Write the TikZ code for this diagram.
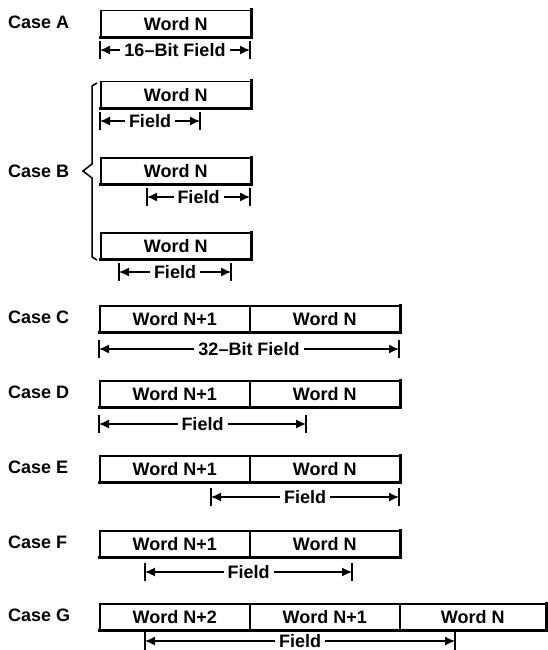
\documentclass[tikz,border=0pt]{standalone}
\usepackage{fontspec}
\setmainfont{Liberation Sans}
\usetikzlibrary{arrows.meta,calc}
\tikzset{
  cell/.style={draw, line width=1.5pt, minimum height=26pt, inner sep=0pt, anchor=north west,
    font=\fontsize{18}{20}\selectfont\bfseries},
  heavy/.style={line width=3pt, line cap=rect},
  caselabel/.style={anchor=west, inner sep=0pt, font=\fontsize{18}{20}\selectfont\bfseries},
  flabel/.style={fill=white, inner xsep=4pt, inner ysep=1pt, font=\fontsize{18}{20}\selectfont\bfseries},
  farrow/.style={line width=1.3pt, {Latex[length=10pt,width=9pt]}-{Latex[length=10pt,width=9pt]}},
  tickline/.style={line width=2pt},
  bracel/.style={line width=1.5pt, line join=miter}
}
\newcommand\fieldarr[5]{%
  \coordinate (#1l) at (#2,#4);
  \coordinate (#1r) at (#3,#4);
  \draw[tickline] ([yshift=9pt]#1l) -- ([yshift=-9pt]#1l);
  \draw[tickline] ([yshift=9pt]#1r) -- ([yshift=-9pt]#1r);
  \draw[farrow] (#1l) -- (#1r);
  \node[flabel] (#1t) at ($(#1l)!0.5!(#1r)$) {#5};
}
\begin{document}
\begin{tikzpicture}[x=1pt,y=-1pt]
\useasboundingbox (0,0) rectangle (547,650);
% Case A
\node[caselabel] (la) at (8,22) {Case A};
\node[cell, minimum width=150pt] (a1) at (100,10) {Word N};
\draw[heavy] (a1.south west) -- (a1.south east) -- (a1.north east);
\fieldarr{fa}{100}{250}{50}{16--Bit Field}
% Case B
\node[caselabel] (lb) at (8,171) {Case B};
\node[cell, minimum width=150pt] (b1) at (100,81) {Word N};
\draw[heavy] (b1.south west) -- (b1.south east) -- (b1.north east);
\fieldarr{fb1}{100}{200}{121}{Field}
\node[cell, minimum width=150pt] (b2) at (100,157) {Word N};
\draw[heavy] (b2.south west) -- (b2.south east) -- (b2.north east);
\fieldarr{fb2}{147}{250}{197}{Field}
\node[cell, minimum width=150pt] (b3) at (100,232) {Word N};
\draw[heavy] (b3.south west) -- (b3.south east) -- (b3.north east);
\fieldarr{fb3}{119}{231}{272}{Field}
\draw[bracel] (97,83) -- (92,86) -- (92,164) -- (83,171) -- (92,178) -- (92,257) -- (97,260);
% Case C
\node[caselabel] (lc) at (8,317) {Case C};
\node[cell, minimum width=150pt] (c1) at (99,305) {Word N+1};
\node[cell, minimum width=150pt] (c2) at (249,305) {Word N};
\draw[heavy] (c1.south west) -- (c2.south east) -- (c2.north east);
\fieldarr{fc}{99}{399}{349}{32--Bit Field}
% Case D
\node[caselabel] (ld) at (8,392) {Case D};
\node[cell, minimum width=150pt] (d1) at (99,380) {Word N+1};
\node[cell, minimum width=150pt] (d2) at (249,380) {Word N};
\draw[heavy] (d1.south west) -- (d2.south east) -- (d2.north east);
\fieldarr{fd}{99}{306}{424}{Field}
% Case E
\node[caselabel] (le) at (8,467) {Case E};
\node[cell, minimum width=150pt] (e1) at (99,455) {Word N+1};
\node[cell, minimum width=150pt] (e2) at (249,455) {Word N};
\draw[heavy] (e1.south west) -- (e2.south east) -- (e2.north east);
\fieldarr{fe}{211}{399}{497}{Field}
% Case F
\node[caselabel] (lf) at (8,542) {Case F};
\node[cell, minimum width=150pt] (f1) at (99,530) {Word N+1};
\node[cell, minimum width=150pt] (f2) at (249,530) {Word N};
\draw[heavy] (f1.south west) -- (f2.south east) -- (f2.north east);
\fieldarr{ff}{145}{352}{572}{Field}
% Case G
\node[caselabel] (lg) at (8,615) {Case G};
\node[cell, minimum width=150pt] (g1) at (99,603) {Word N+2};
\node[cell, minimum width=150pt] (g2) at (249,603) {Word N+1};
\node[cell, minimum width=146pt] (g3) at (399,603) {Word N};
\draw[heavy] (g1.south west) -- (g3.south east) -- (g3.north east);
\fieldarr{fg}{145}{455}{641}{Field}
\end{tikzpicture}
\end{document}
